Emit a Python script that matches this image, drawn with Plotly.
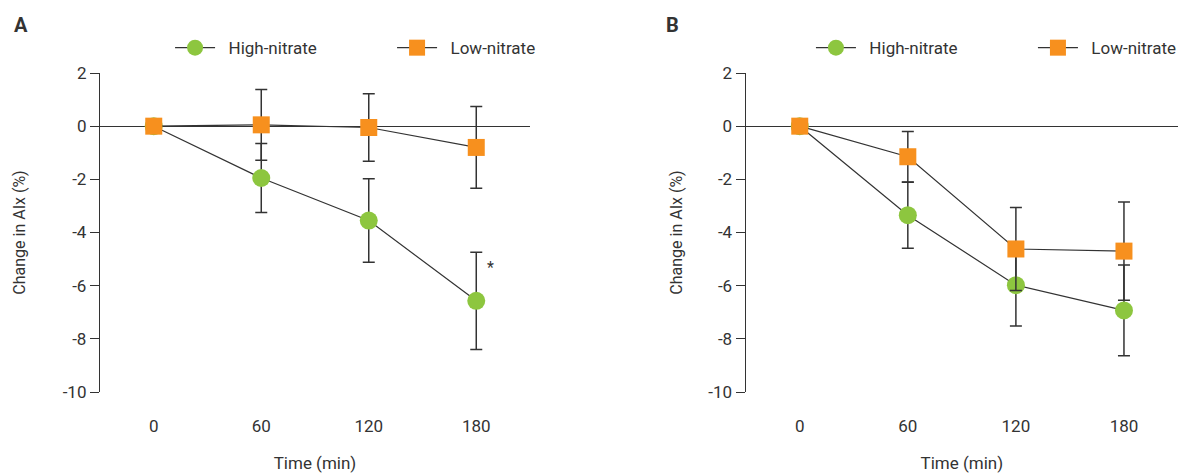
import plotly.graph_objects as go

times = [0, 60, 120, 180]
tick_labels = ["0", "60", "120", "180"]
y_ticks = [2, 0, -2, -4, -6, -8, -10]
y_tick_labels = ["2", "0", "-2", "-4", "-6", "-8", "-10"]

a_high = [0, -1.95, -3.55, -6.57]
a_high_err = [0, 1.3, 1.57, 1.83]
a_low = [0, 0.05, -0.05, -0.8]
a_low_err = [0, 1.33, 1.27, 1.54]

b_high = [0, -3.35, -5.98, -6.93]
b_high_err = [0, 1.24, 1.54, 1.71]
b_low = [0, -1.15, -4.62, -4.7]
b_low_err = [0, 0.95, 1.56, 1.85]

GREEN = "#8DC63F"
ORANGE = "#F7901E"
DARK = "#333333"
FONT = "Roboto, sans-serif"
PAD = "\u00a0\u00a0"

fig = go.Figure()

def add(x, y, err, name, color, symbol, xa, ya, legend):
    fig.add_trace(go.Scatter(
        x=x, y=y, name=PAD + name, mode="lines+markers",
        line=dict(color=DARK, width=1.2),
        marker=dict(color=color, symbol=symbol, size=18 if symbol == "circle" else 17,
                    line=dict(width=0)),
        error_y=dict(type="data", array=err, visible=True, color=DARK,
                     thickness=1.5, width=6),
        xaxis=xa, yaxis=ya, legend=legend, cliponaxis=False,
    ))

add(times, a_high, a_high_err, "High-nitrate", GREEN, "circle", "x", "y", "legend")
add(times, a_low, a_low_err, "Low-nitrate", ORANGE, "square", "x", "y", "legend")
add(times, b_high, b_high_err, "High-nitrate", GREEN, "circle", "x2", "y2", "legend2")
add(times, b_low, b_low_err, "Low-nitrate", ORANGE, "square", "x2", "y2", "legend2")

xax = dict(range=[-30, 210], tickvals=times, ticktext=tick_labels, showline=False,
           showgrid=False, zeroline=False, ticks="outside", ticklen=19,
           tickcolor="rgba(0,0,0,0)", tickfont=dict(size=17, color=DARK, family=FONT),
           title=dict(text="Time (min)", font=dict(size=17, color=DARK, family=FONT), standoff=21))

def yax(standoff):
    return dict(range=[-10, 2], tickvals=y_ticks, ticktext=y_tick_labels, showline=True,
                linecolor=DARK, linewidth=1.3, ticks="outside", ticklen=9, tickcolor=DARK,
                tickwidth=1.3, showgrid=False, zeroline=True, zerolinecolor=DARK,
                zerolinewidth=1.3, tickfont=dict(size=17, color=DARK, family=FONT),
                title=dict(text="Change in AIx (%)",
                           font=dict(size=16, color=DARK, family=FONT), standoff=standoff))

leg = dict(orientation="h", yref="paper", y=1.078, xanchor="left", yanchor="middle",
           font=dict(size=17, color=DARK, family=FONT),
           entrywidth=167, itemwidth=40, bgcolor="rgba(0,0,0,0)")

fig.update_layout(
    width=1184, height=466,
    margin=dict(l=92, r=14, t=65, b=82, autoexpand=False),
    plot_bgcolor="white", paper_bgcolor="white",
    font=dict(family=FONT, color=DARK),
    xaxis=dict(domain=[0, 0.3989], anchor="y", **xax),
    yaxis=dict(anchor="x", **yax(33)),
    xaxis2=dict(domain=[0.599, 1], anchor="y2", **xax),
    yaxis2=dict(anchor="x2", **yax(21)),
    legend=dict(x=0.0650, **leg),
    legend2=dict(x=0.6595, **leg),
    showlegend=True,
)

fig.add_annotation(x=188, y=-5.3, text="*", showarrow=False, xref="x", yref="y",
                   font=dict(size=16, color=DARK, family=FONT))
fig.add_annotation(x=-0.0733, y=1.15, xref="paper", yref="paper", text="<b>A</b>",
                   xanchor="center", yanchor="middle",
                   showarrow=False, font=dict(size=20, color=DARK, family=FONT))
fig.add_annotation(x=0.5315, y=1.15, xref="paper", yref="paper", text="<b>B</b>",
                   xanchor="center", yanchor="middle",
                   showarrow=False, font=dict(size=20, color=DARK, family=FONT))

fig.write_html("out.html")
